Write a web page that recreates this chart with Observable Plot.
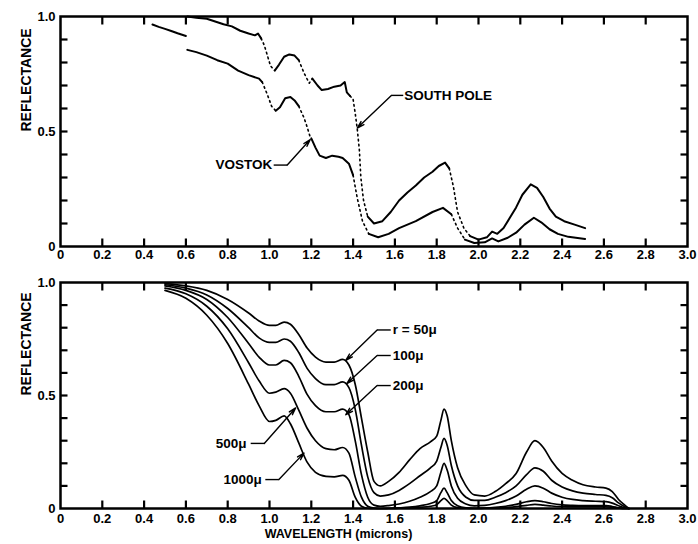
<!DOCTYPE html>
<html>
<head>
<meta charset="utf-8">
<script src="https://cdn.jsdelivr.net/npm/d3@7"></script>
<script src="https://cdn.jsdelivr.net/npm/@observablehq/plot@0.6"></script>
<style>
  body { margin: 0; background: #fff; }
  #chart { position: relative; width: 698px; height: 544px; }
  #chart svg { position: absolute; left: 0; font-family: 'Liberation Sans', Arial, Helvetica, sans-serif; font-weight: bold; font-size: 13px; color: #000; }
</style>
</head>
<body>
<div id="chart"></div>
<script>
// ---------- tick labels ----------
const xTickValues = [0, 0.2, 0.4, 0.6, 0.8, 1.0, 1.2, 1.4, 1.6, 1.8, 2.0, 2.2, 2.4, 2.6, 2.8, 3.0];
const xMinorTicks = [0.2, 0.4, 0.6, 0.8, 1.0, 1.2, 1.4, 1.6, 1.8, 2.0, 2.2, 2.4, 2.6, 2.8];
const yTickValues = [0, 0.5, 1.0];
const yMinorTicks = [0.1, 0.2, 0.3, 0.4, 0.5, 0.6, 0.7, 0.8, 0.9];
const yLabel = "REFLECTANCE";
const xLabel = "WAVELENGTH (microns)";

// ---------- top panel: measured spectra ----------
const southPoleVisible = [[0.44,0.965],[0.47,0.955],[0.50,0.946],[0.53,0.937],[0.56,0.927],[0.60,0.915]];
const southPole = [
  [0.607,1.0],[0.65,0.995],[0.70,0.99],[0.74,0.978],[0.78,0.966],[0.82,0.957],[0.86,0.938],[0.90,0.926],
  [0.93,0.918],[0.945,0.926],[0.96,0.905],[0.975,0.875],[0.99,0.83],[1.005,0.785],[1.025,0.765],[1.045,0.79],
  [1.07,0.825],[1.095,0.835],[1.12,0.83],[1.14,0.81],[1.165,0.755],[1.19,0.71],[1.205,0.73],[1.23,0.70],
  [1.25,0.68],[1.28,0.685],[1.31,0.695],[1.34,0.70],[1.36,0.715],[1.37,0.67],[1.385,0.655],[1.40,0.64],
  [1.41,0.58],[1.42,0.51],[1.43,0.42],[1.437,0.30],[1.45,0.20],[1.47,0.13],[1.50,0.10],[1.54,0.11],
  [1.58,0.15],[1.62,0.20],[1.66,0.235],[1.70,0.265],[1.74,0.30],[1.78,0.325],[1.81,0.35],[1.84,0.365],
  [1.86,0.34],[1.88,0.26],[1.90,0.15],[1.93,0.08],[1.96,0.045],[2.00,0.03],[2.04,0.04],[2.065,0.065],
  [2.09,0.055],[2.12,0.08],[2.15,0.125],[2.18,0.17],[2.21,0.225],[2.25,0.27],[2.28,0.255],[2.31,0.215],
  [2.34,0.165],[2.37,0.13],[2.41,0.11],[2.46,0.095],[2.51,0.08]
];
const vostok = [
  [0.607,0.855],[0.65,0.845],[0.70,0.83],[0.75,0.81],[0.80,0.795],[0.85,0.765],[0.90,0.745],[0.95,0.73],
  [0.965,0.715],[0.99,0.66],[1.01,0.61],[1.03,0.59],[1.05,0.605],[1.075,0.645],[1.10,0.65],[1.12,0.635],
  [1.14,0.61],[1.165,0.56],[1.18,0.52],[1.195,0.475],[1.20,0.47],[1.22,0.43],[1.24,0.395],[1.27,0.385],
  [1.30,0.395],[1.33,0.39],[1.35,0.385],[1.38,0.36],[1.40,0.31],[1.42,0.21],[1.445,0.11],[1.475,0.055],
  [1.52,0.04],[1.57,0.055],[1.62,0.08],[1.70,0.11],[1.78,0.15],[1.83,0.168],[1.87,0.14],[1.90,0.08],
  [1.935,0.03],[1.98,0.015],[2.03,0.018],[2.065,0.035],[2.095,0.022],[2.14,0.038],[2.18,0.06],[2.22,0.095],
  [2.265,0.125],[2.30,0.105],[2.34,0.075],[2.38,0.055],[2.43,0.042],[2.51,0.033]
];
// wavelength ranges where the reproduced trace is only dotted
const southPoleDotted = [[0.955,1.02],[1.14,1.205],[1.385,1.48],[1.86,1.95]];
const vostokDotted = [[0.96,1.02],[1.14,1.2],[1.395,1.49],[1.875,1.95]];

const topNotes = [
  {text: "SOUTH POLE", tx: 1.645, ty: 0.657, anchor: "start", lx1: 1.583, lx2: 1.64, ex: 1.583, ax: 1.42, ay: 0.515},
  {text: "VOSTOK", tx: 1.013, ty: 0.354, anchor: "end", lx1: 1.02, lx2: 1.085, ex: 1.085, ax: 1.195, ay: 0.465}
];

// ---------- bottom panel: model spectra for grain radius r ----------
const grainLabels = ["50μ", "100μ", "200μ", "500μ", "1000μ"];
const wavelengths = [0.5,0.6,0.7,0.8,0.9,0.95,1.0,1.03,1.07,1.1,1.14,1.18,1.22,1.27,1.31,1.35,1.38,1.41,1.44,1.47,
  1.5,1.53,1.57,1.62,1.67,1.72,1.77,1.80,1.82,1.835,1.85,1.87,1.9,1.94,1.98,2.03,2.08,2.13,2.18,2.23,2.27,2.31,2.35,
  2.4,2.45,2.5,2.56,2.61,2.64,2.67,2.70,2.72];
const r50 = [0.995,0.985,0.965,0.925,0.865,0.83,0.81,0.81,0.825,0.815,0.77,0.71,0.67,0.648,0.648,0.66,0.635,0.55,0.40,0.25,
  0.12,0.10,0.12,0.16,0.215,0.265,0.295,0.32,0.39,0.44,0.41,0.30,0.18,0.10,0.06,0.055,0.075,0.11,0.155,0.25,0.30,0.27,0.21,
  0.155,0.125,0.105,0.095,0.09,0.075,0.04,0.015,0];
const r100 = [0.99,0.975,0.945,0.885,0.80,0.755,0.735,0.735,0.75,0.74,0.69,0.62,0.575,0.548,0.548,0.56,0.535,0.44,0.28,0.14,
  0.07,0.055,0.06,0.08,0.11,0.145,0.18,0.21,0.27,0.31,0.28,0.19,0.10,0.05,0.036,0.036,0.05,0.07,0.10,0.15,0.18,0.165,0.125,
  0.095,0.078,0.068,0.062,0.058,0.048,0.025,0.008,0];
const r200 = [0.985,0.965,0.925,0.845,0.73,0.67,0.635,0.635,0.655,0.645,0.585,0.505,0.455,0.428,0.428,0.44,0.415,0.30,0.15,0.05,
  0.015,0.01,0.013,0.02,0.032,0.05,0.075,0.10,0.16,0.20,0.17,0.10,0.045,0.02,0.012,0.014,0.022,0.035,0.055,0.085,0.10,0.09,0.068,
  0.05,0.04,0.035,0.032,0.03,0.024,0.012,0.003,0];
const r500 = [0.975,0.95,0.895,0.795,0.645,0.565,0.51,0.515,0.53,0.51,0.435,0.355,0.30,0.265,0.26,0.27,0.245,0.14,0.05,0.01,
  0.002,0,0.001,0.003,0.006,0.012,0.022,0.035,0.07,0.09,0.07,0.035,0.012,0.003,0.001,0.002,0.005,0.01,0.018,0.03,0.035,0.03,0.022,
  0.016,0.014,0.013,0.013,0.013,0.009,0.003,0,0];
const r1000 = [0.965,0.93,0.855,0.73,0.55,0.455,0.385,0.39,0.41,0.375,0.29,0.205,0.16,0.142,0.14,0.147,0.125,0.05,0.01,0.001,
  0,0,0,0.001,0.002,0.005,0.01,0.017,0.035,0.045,0.035,0.015,0.004,0.001,0,0.001,0.002,0.004,0.008,0.014,0.018,0.015,0.011,
  0.008,0.007,0.007,0.007,0.007,0.005,0.002,0,0];

const bottomNotes = [
  {text: "r = 50μ", tx: 1.59, ty: 0.79, anchor: "start", lx1: 1.515, lx2: 1.58, ex: 1.515, ax: 1.365, ay: 0.655},
  {text: "100μ", tx: 1.59, ty: 0.677, anchor: "start", lx1: 1.515, lx2: 1.58, ex: 1.515, ax: 1.37, ay: 0.553},
  {text: "200μ", tx: 1.59, ty: 0.544, anchor: "start", lx1: 1.515, lx2: 1.58, ex: 1.515, ax: 1.365, ay: 0.415},
  {text: "500μ", tx: 0.89, ty: 0.288, anchor: "end", lx1: 0.91, lx2: 0.975, ex: 0.975, ax: 1.125, ay: 0.445},
  {text: "1000μ", tx: 0.963, ty: 0.128, anchor: "end", lx1: 0.98, lx2: 1.045, ex: 1.045, ax: 1.165, ay: 0.245}
];

// ---------- helpers ----------
const fmt = d => d === 0 ? "0" : d.toFixed(1);
const W = 698, ML = 60, MR = 11;
const plotInnerW = W - ML - MR;
const XD = [0, 3], YD = [0, 1];
const TICK_PX = 8;

// split a trace into solid / dotted runs
function toRuns(points, dotted, name) {
  const out = [];
  let run = 0, prev = null;
  for (let i = 0; i < points.length - 1; i++) {
    const [x1, y1] = points[i], [x2, y2] = points[i + 1];
    const mid = (x1 + x2) / 2;
    const type = dotted.some(([a, b]) => mid >= a && mid <= b) ? "dot" : "solid";
    if (type !== prev) { run++; out.push({x: x1, y: y1, run: name + run, type}); }
    out.push({x: x2, y: y2, run: name + run, type});
    prev = type;
  }
  return out;
}

// inward tick segments as objects (two points per tick), lengths converted from pixels into scale units
function tickSegments(innerH) {
  const ty = TICK_PX / innerH * (YD[1] - YD[0]);
  const tx = (TICK_PX - 1) / plotInnerW * (XD[1] - XD[0]);
  const segs = [];
  xMinorTicks.forEach((v, i) => {
    segs.push({x: v, y: YD[0], id: "b" + i}, {x: v, y: YD[0] + ty, id: "b" + i});
    segs.push({x: v, y: YD[1], id: "t" + i}, {x: v, y: YD[1] - ty, id: "t" + i});
  });
  yMinorTicks.forEach((v, i) => {
    segs.push({x: XD[0], y: v, id: "l" + i}, {x: XD[0] + tx, y: v, id: "l" + i});
    segs.push({x: XD[1], y: v, id: "r" + i}, {x: XD[1] - tx, y: v, id: "r" + i});
  });
  return segs;
}

function frameMarks(innerH) {
  const segs = tickSegments(innerH);
  return [
    Plot.line(segs, {x: "x", y: "y", z: "id", stroke: "black", strokeWidth: 2.2, strokeLinecap: "butt"}),
    Plot.frame({stroke: "black", strokeWidth: 2.5}),
    Plot.text([yLabel], {text: d => d, frameAnchor: "left", rotate: -90, dx: -34, fontSize: 14})
  ];
}

function noteMarks(notes) {
  return [
    Plot.link(notes, {x1: "lx1", x2: "lx2", y1: "ty", y2: "ty", stroke: "black", strokeWidth: 1.4}),
    Plot.arrow(notes, {x1: "ex", y1: "ty", x2: "ax", y2: "ay", stroke: "black", strokeWidth: 1.4, headLength: 8, headAngle: 32}),
    Plot.text(notes, {filter: d => d.anchor === "start", x: "tx", y: "ty", text: "text", textAnchor: "start", fontSize: 13.5}),
    Plot.text(notes, {filter: d => d.anchor === "end", x: "tx", y: "ty", text: "text", textAnchor: "end", fontSize: 13.5})
  ];
}

function scales(pad) {
  return {
    x: {domain: XD, ticks: xTickValues, tickFormat: fmt, tickSize: 0, tickPadding: pad, label: null},
    y: {domain: YD, ticks: yTickValues, tickFormat: fmt, tickSize: 0, tickPadding: 5, label: null}
  };
}

// ---------- top panel ----------
const topRuns = [
  ...toRuns(southPoleVisible, [], "a"),
  ...toRuns(southPole, southPoleDotted, "s"),
  ...toRuns(vostok, vostokDotted, "v")
];
const topH = 272, topMT = 16, topMB = 26;
const topPlot = Plot.plot({
  width: W, height: topH, marginLeft: ML, marginRight: MR, marginTop: topMT, marginBottom: topMB,
  ...scales(3),
  marks: [
    Plot.line(topRuns.filter(d => d.type === "solid"), {x: "x", y: "y", z: "run", stroke: "black", strokeWidth: 2}),
    Plot.line(topRuns.filter(d => d.type === "dot"), {x: "x", y: "y", z: "run", stroke: "black", strokeWidth: 1.6, strokeDasharray: "1.6,3.4"}),
    ...noteMarks(topNotes),
    ...frameMarks(topH - topMT - topMB)
  ]
});
topPlot.style.top = "0px";

// ---------- bottom panel ----------
const series = [r50, r100, r200, r500, r1000];
const model = series.flatMap((vals, k) => vals.map((v, i) => ({w: wavelengths[i], r: v, grain: grainLabels[k]})));
const botH = 272, botMT = 10, botMB = 36;
const bottomPlot = Plot.plot({
  width: W, height: botH, marginLeft: ML, marginRight: MR, marginTop: botMT, marginBottom: botMB,
  ...scales(5),
  marks: [
    Plot.line(model, {x: "w", y: "r", z: "grain", stroke: "black", strokeWidth: 1.7, curve: "monotone-x"}),
    ...noteMarks(bottomNotes),
    Plot.text([xLabel], {text: d => d, x: 1.33, frameAnchor: "bottom", dy: 29, fontSize: 12.5}),
    ...frameMarks(botH - botMT - botMB)
  ]
});
bottomPlot.style.top = "272px";

document.getElementById("chart").append(topPlot, bottomPlot);
</script>
</body>
</html>
